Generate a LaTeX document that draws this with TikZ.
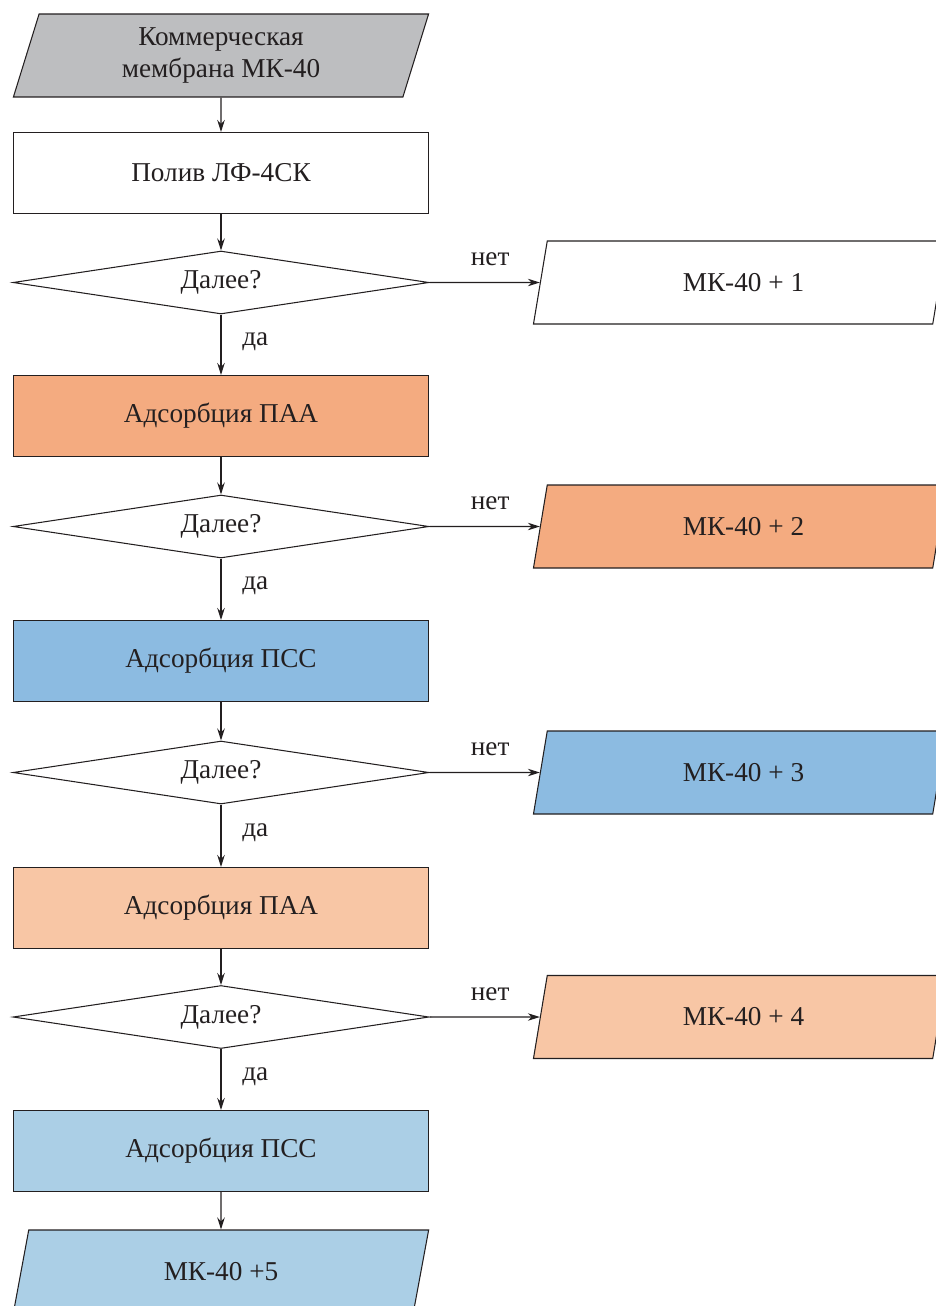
\documentclass[tikz,border=0pt]{standalone}
\usepackage{fontspec}
\setmainfont{Liberation Serif}
\usetikzlibrary{shapes.geometric, arrows.meta, positioning}

\definecolor{membgray}{HTML}{BDBEC0}
\definecolor{paa}{HTML}{F4AB80}
\definecolor{pss}{HTML}{8CBBE1}
\definecolor{paalight}{HTML}{F8C6A5}
\definecolor{psslight}{HTML}{ABCFE6}
\definecolor{ink}{HTML}{231F20}

\begin{document}
\begin{tikzpicture}[x=0.02cm, y=-0.02cm,
	every node/.style={font=\fontsize{15.5}{18.5}\selectfont, text=ink},
	proc/.style={draw=ink, line width=0.6pt, minimum width=8.32cm, minimum height=1.62cm, inner sep=0pt},
	ask/.style={draw=ink, line width=0.6pt, diamond, aspect=6.6, minimum width=8.32cm, minimum height=1.26cm, inner sep=0pt},
	io/.style={draw=ink, line width=0.6pt, trapezium, trapezium left angle=76, trapezium right angle=104,
		trapezium stretches=true, minimum width=8.32cm, minimum height=1.66cm, inner sep=0pt},
	flow/.style={draw=ink, line width=0.6pt, -{Stealth[length=2.4mm, width=1.5mm]}},
	yes/.style={right=0.3cm, pos=0.45},
	no/.style={above=0.2cm, pos=0.55}]
		\clip (0,0) rectangle (936,1306);

% main column
\node[io, fill=membgray, align=center] (src) at (221,55.5) {Коммерческая\\мембрана МК-40};
\node[proc, fill=white] (cast) at (221,173) {Полив ЛФ-4СК};
\node[ask] (q1) at (221,282.5) {Далее?};
\node[proc, fill=paa] (ads1) at (221,416) {Адсорбция ПАА};
\node[ask] (q2) at (221,526.5) {Далее?};
\node[proc, fill=pss] (ads2) at (221,661) {Адсорбция ПСС};
\node[ask] (q3) at (221,772.5) {Далее?};
\node[proc, fill=paalight] (ads3) at (221,908) {Адсорбция ПАА};
\node[ask] (q4) at (221,1017) {Далее?};
\node[proc, fill=psslight] (ads4) at (221,1151) {Адсорбция ПСС};
\node[io, fill=psslight] (out5) at (221,1271.5) {МК-40 +5};

% side outputs
\node[io, fill=white] (out1) at (740,282.5) {\hspace{0.14cm}МК-40 + 1};
\node[io, fill=paa] (out2) at (740,526.5) {\hspace{0.14cm}МК-40 + 2};
\node[io, fill=pss] (out3) at (740,772.5) {\hspace{0.14cm}МК-40 + 3};
\node[io, fill=paalight] (out4) at (740,1017) {\hspace{0.14cm}МК-40 + 4};

\draw[flow] (src) -- (cast);
\draw[flow] (cast) -- (q1);
\draw[flow] (q1) -- node[yes] (yes1) {да} (ads1);
\draw[flow] (ads1) -- (q2);
\draw[flow] (q2) -- node[yes] (yes2) {да} (ads2);
\draw[flow] (ads2) -- (q3);
\draw[flow] (q3) -- node[yes] (yes3) {да} (ads3);
\draw[flow] (ads3) -- (q4);
\draw[flow] (q4) -- node[yes] (yes4) {да} (ads4);
\draw[flow] (ads4) -- (out5);

\foreach \i in {1,...,4}
	\draw[flow] (q\i) -- node[no] (no\i) {нет} (out\i);
	\end{tikzpicture}
\end{document}
